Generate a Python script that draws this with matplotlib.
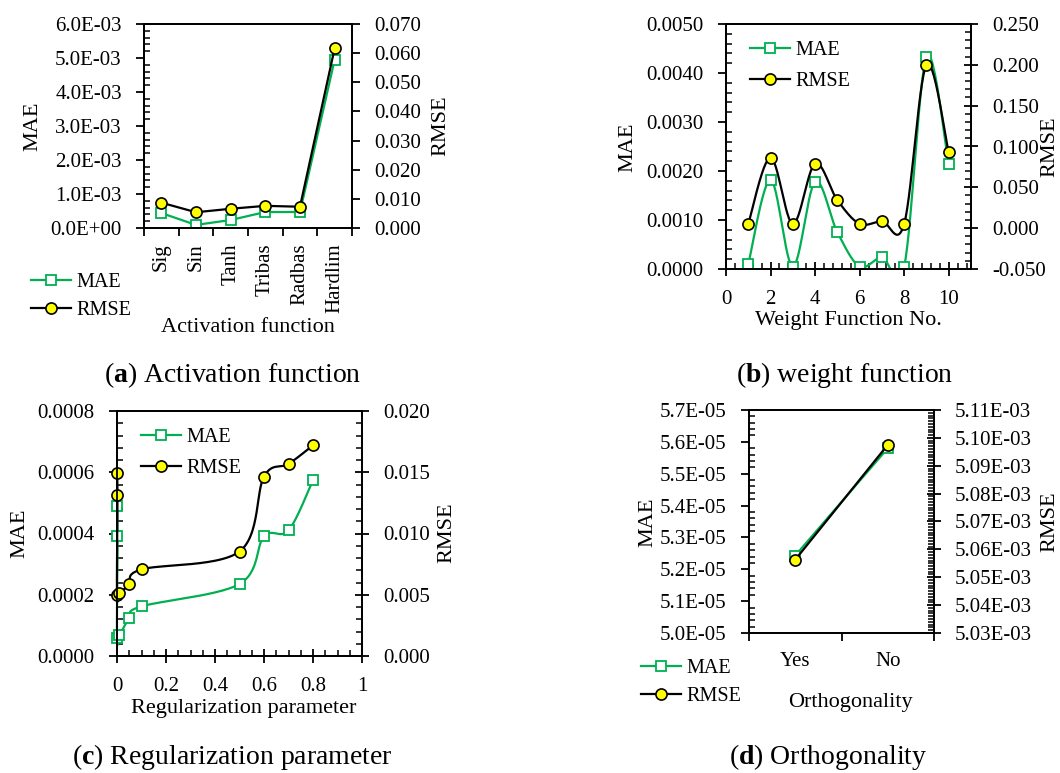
import numpy as np
import matplotlib
matplotlib.use("Agg")
import matplotlib.pyplot as plt
from matplotlib.ticker import MultipleLocator, FuncFormatter
from matplotlib.lines import Line2D

plt.rcParams["font.family"] = ["Liberation Serif", "DejaVu Serif"]
plt.rcParams["mathtext.fontset"] = "custom"
plt.rcParams["mathtext.rm"] = "Liberation Serif"
plt.rcParams["mathtext.bf"] = "Liberation Serif:bold"
plt.rcParams["axes.unicode_minus"] = False

# ---------------- (a) activation function ---------------- #
act_names = ["Sig", "Sin", "Tanh", "Tribas", "Radbas", "Hardlim"]
act_mae = [0.00044, 0.00009, 0.000235, 0.00047, 0.00047, 0.00495]
act_rmse = [0.0087, 0.0054, 0.0066, 0.0076, 0.0073, 0.0617]

# ---------------- (b) weight function ---------------- #
wf_no = [1, 2, 3, 4, 5, 6, 7, 8, 9, 10]
wf_mae = [0.0001, 0.00182, 0.00005, 0.00178, 0.00075, 0.00005, 0.00024, 0.00005, 0.00433, 0.00214]
wf_rmse = [0.0053, 0.0863, 0.0053, 0.079, 0.0343, 0.0053, 0.0086, 0.0053, 0.200, 0.0928]

# ---------------- (c) regularization parameter ---------------- #
reg_c = [0.001, 0.002, 0.0, 0.01, 0.05, 0.1, 0.5, 0.6, 0.7, 0.8]
reg_mae = [0.00049, 0.000391, 0.0000587, 0.0000674, 0.000124, 0.000162, 0.000235, 0.000391, 0.00041, 0.000574]
reg_rmse = [0.01497, 0.01315, 0.0050, 0.00514, 0.00584, 0.00707, 0.00853, 0.01465, 0.01568, 0.0172]

# ---------------- (d) orthogonality ---------------- #
orth_names = ["Yes", "No"]
orth_mae = [5.243e-05, 5.58e-05]
orth_rmse = [5.0563e-03, 5.0975e-03]

GREEN = "#00B050"
W, H = 1060, 773
TICK = 15
LAB = 16
CAP = 20

fig = plt.figure(figsize=(W / 100, H / 100), dpi=100)


def box(l, t, r, b):
    return [l / W, 1 - b / H, (r - l) / W, (b - t) / H]


def ftext(x, y, s, **kw):
    fig.text(x / W, 1 - y / H, s, **kw)


def smooth(xs, ys, xr, yr, wpx, hpx, n=30):
    # Excel-style smoothed line (Catmull-Rom through the points, screen space)
    u = (np.asarray(xs, float) - xr[0]) / (xr[1] - xr[0]) * wpx
    v = (np.asarray(ys, float) - yr[0]) / (yr[1] - yr[0]) * hpx
    P = np.column_stack([u, v])
    out = [P[0]]
    t = np.linspace(0, 1, n)[1:, None]
    for i in range(len(P) - 1):
        p0 = P[i - 1] if i > 0 else P[i]
        p1, p2 = P[i], P[i + 1]
        p3 = P[i + 2] if i + 2 < len(P) else P[i + 1]
        c1 = p1 + (p2 - p0) / 6
        c2 = p2 - (p3 - p1) / 6
        seg = (1 - t) ** 3 * p1 + 3 * (1 - t) ** 2 * t * c1 + 3 * (1 - t) * t ** 2 * c2 + t ** 3 * p2
        out.extend(seg)
    out = np.array(out)
    return (xr[0] + out[:, 0] / wpx * (xr[1] - xr[0]),
            yr[0] + out[:, 1] / hpx * (yr[1] - yr[0]))


mae_style = dict(marker="s", markersize=7.5, markerfacecolor="white",
                 markeredgecolor=GREEN, markeredgewidth=1.3, color=GREEN, linewidth=1.6)
rmse_style = dict(marker="o", markersize=8, markerfacecolor="#FFFF00",
                  markeredgecolor="black", markeredgewidth=1.2, color="black", linewidth=1.6)
mae_marks = {k: v for k, v in mae_style.items() if k not in ("color", "linewidth")}
rmse_marks = {k: v for k, v in rmse_style.items() if k not in ("color", "linewidth")}


def handles():
    return [Line2D([], [], **mae_style), Line2D([], [], **rmse_style)]


def add_legend(target, x, y, spacing, **kw):
    target.legend(handles(), ["MAE", "RMSE"], loc="upper left",
                  bbox_to_anchor=(x / W, 1 - y / H), bbox_transform=fig.transFigure,
                  frameon=False, fontsize=14.5, handlelength=2.0, handletextpad=0.25,
                  labelspacing=spacing, borderpad=0, borderaxespad=0, numpoints=1)


def style_axes(ax, ax2):
    for a in (ax, ax2):
        for sp in a.spines.values():
            sp.set_linewidth(1.3)
    ax.tick_params(axis="y", which="major", direction="out", length=6, width=1.3,
                   labelsize=TICK, pad=10)
    ax.tick_params(axis="y", which="minor", direction="in", length=4, width=1.1)
    ax.tick_params(axis="x", which="major", width=1.3, labelsize=TICK, pad=10)
    ax.tick_params(axis="x", which="minor", direction="in", length=4, width=1.1)
    ax2.tick_params(axis="y", which="major", direction="out", length=6, width=1.3,
                    labelsize=TICK, pad=10)
    ax2.tick_params(axis="y", which="minor", direction="in", length=4, width=1.1)


def fmt(f):
    return FuncFormatter(lambda v, p: f(v))


# ================= panel (a) ================= #
ax = fig.add_axes(box(144, 24, 352, 228))
ax2 = ax.twinx()
xa = np.arange(len(act_names))
ax.plot(xa, act_mae, **mae_style)
ax2.plot(xa, act_rmse, **rmse_style)
ax.set_xlim(-0.5, len(act_names) - 0.5)
ax.set_ylim(0, 0.006)
ax2.set_ylim(0, 0.07)
style_axes(ax, ax2)
ax.set_xticks(np.arange(len(act_names) + 1) - 0.5)
ax.set_xticklabels([])
ax.tick_params(axis="x", which="major", direction="out", length=6)
ax.set_xticks(xa, minor=True)
ax.set_xticklabels(act_names, minor=True, rotation=90, va="top", fontsize=TICK)
ax.tick_params(axis="x", which="minor", length=0, pad=11)
ax.yaxis.set_major_locator(MultipleLocator(0.001))
ax.yaxis.set_minor_locator(MultipleLocator(0.0002))
ax.yaxis.set_major_formatter(fmt(lambda v: f"{v:.1E}"))
ax2.yaxis.set_major_locator(MultipleLocator(0.01))
ax2.yaxis.set_major_formatter(fmt(lambda v: f"{v:.3f}"))
ftext(33, 126, "MAE", rotation=90, ha="center", va="center", fontsize=LAB)
ftext(441, 126, "RMSE", rotation=90, ha="center", va="center", fontsize=LAB)
ftext(248, 327, "Activation function", ha="center", va="center", fontsize=LAB)
add_legend(fig, 31, 273, 0.45)

# ================= panel (b) ================= #
bl, bt, br, bb = 726, 24, 971, 269
ax = fig.add_axes(box(bl, bt, br, bb))
ax2 = ax.twinx()
xr, yr, yr2 = (0, 11), (0, 0.005), (-0.05, 0.25)
sx, sy = smooth(wf_no, wf_mae, xr, yr, br - bl, bb - bt)
ax.plot(sx, sy, color=GREEN, linewidth=1.6)
ax.plot(wf_no, wf_mae, linestyle="none", **mae_marks)
sx, sy = smooth(wf_no, wf_rmse, xr, yr2, br - bl, bb - bt)
ax2.plot(sx, sy, color="black", linewidth=1.6)
ax2.plot(wf_no, wf_rmse, linestyle="none", **rmse_marks)
ax.set_xlim(*xr)
ax.set_ylim(*yr)
ax2.set_ylim(*yr2)
style_axes(ax, ax2)
ax.tick_params(axis="x", which="major", direction="inout", length=10)
ax2.tick_params(axis="y", which="major", direction="inout", length=10)
ax.xaxis.set_major_locator(MultipleLocator(2))
ax.xaxis.set_minor_locator(MultipleLocator(0.4))
ax.yaxis.set_major_locator(MultipleLocator(0.001))
ax.yaxis.set_minor_locator(MultipleLocator(0.0002))
ax.yaxis.set_major_formatter(fmt(lambda v: f"{v:.4f}"))
ax2.yaxis.set_major_locator(MultipleLocator(0.05))
ax2.yaxis.set_minor_locator(MultipleLocator(0.01))
ax2.yaxis.set_major_formatter(fmt(lambda v: f"{v:.3f}"))
ftext(628, 147, "MAE", rotation=90, ha="center", va="center", fontsize=LAB)
ftext(1050, 147, "RMSE", rotation=90, ha="center", va="center", fontsize=LAB)
ftext(848, 321, "Weight Function No.", ha="center", va="center", fontsize=LAB)
add_legend(ax, 750, 41, 0.6)

# ================= panel (c) ================= #
cl, ct, cr, cb = 117, 411, 362, 656
ax = fig.add_axes(box(cl, ct, cr, cb))
ax2 = ax.twinx()
xr, yr, yr2 = (0, 1), (0, 0.0008), (0, 0.02)
sx, sy = smooth(reg_c, reg_mae, xr, yr, cr - cl, cb - ct)
ax.plot(sx, sy, color=GREEN, linewidth=1.6, clip_on=False)
ax.plot(reg_c, reg_mae, linestyle="none", clip_on=False, **mae_marks)
sx, sy = smooth(reg_c, reg_rmse, xr, yr2, cr - cl, cb - ct)
ax2.plot(sx, sy, color="black", linewidth=1.6, clip_on=False)
ax2.plot(reg_c, reg_rmse, linestyle="none", clip_on=False, **rmse_marks)
ax.set_xlim(*xr)
ax.set_ylim(*yr)
ax2.set_ylim(*yr2)
style_axes(ax, ax2)
ax.tick_params(axis="x", which="major", direction="inout", length=10)
ax2.tick_params(axis="y", which="major", direction="inout", length=10)
ax.xaxis.set_major_locator(MultipleLocator(0.2))
ax.xaxis.set_minor_locator(MultipleLocator(0.05))
ax.xaxis.set_major_formatter(fmt(lambda v: f"{v:g}"))
ax.yaxis.set_major_locator(MultipleLocator(0.0002))
ax.yaxis.set_minor_locator(MultipleLocator(0.00004))
ax.yaxis.set_major_formatter(fmt(lambda v: f"{v:.4f}"))
ax2.yaxis.set_major_locator(MultipleLocator(0.005))
ax2.yaxis.set_minor_locator(MultipleLocator(0.001))
ax2.yaxis.set_major_formatter(fmt(lambda v: f"{v:.3f}"))
ftext(20, 533, "MAE", rotation=90, ha="center", va="center", fontsize=LAB)
ftext(447, 533, "RMSE", rotation=90, ha="center", va="center", fontsize=LAB)
ftext(244, 708, "Regularization parameter", ha="center", va="center", fontsize=LAB)
add_legend(ax, 141, 428, 0.6)

# ================= panel (d) ================= #
ax = fig.add_axes(box(749, 410, 934, 633))
ax2 = ax.twinx()
xd = np.arange(len(orth_names))
ax.plot(xd, orth_mae, **mae_style)
ax2.plot(xd, orth_rmse, **rmse_style)
ax.set_xlim(-0.5, len(orth_names) - 0.5)
ax.set_ylim(5.0e-05, 5.7e-05)
ax2.set_ylim(5.03e-03, 5.11e-03)
style_axes(ax, ax2)
ax2.tick_params(axis="y", which="major", direction="inout", length=10)
ax.set_xticks(np.arange(len(orth_names) + 1) - 0.5)
ax.set_xticklabels([])
ax.tick_params(axis="x", which="major", direction="out", length=6)
ax.set_xticks(xd, minor=True)
ax.set_xticklabels(orth_names, minor=True, fontsize=TICK)
ax.tick_params(axis="x", which="minor", length=0, pad=14)
ax.yaxis.set_major_locator(MultipleLocator(1e-06))
ax.yaxis.set_minor_locator(MultipleLocator(2e-07))
ax.yaxis.set_major_formatter(fmt(lambda v: f"{v:.1E}"))
ax2.yaxis.set_major_locator(MultipleLocator(1e-05))
ax2.yaxis.set_minor_locator(MultipleLocator(1e-06))
ax2.yaxis.set_major_formatter(fmt(lambda v: f"{v:.2E}"))
ftext(648, 522, "MAE", rotation=90, ha="center", va="center", fontsize=LAB)
ftext(1050, 522, "RMSE", rotation=90, ha="center", va="center", fontsize=LAB)
ftext(850, 703, "Orthogonality", ha="center", va="center", fontsize=LAB)
add_legend(fig, 641, 659, 0.45)

# ---------------- captions ---------------- #
ftext(233, 375, r"($\mathbf{a}$) Activation function", ha="center", va="center", fontsize=CAP)
ftext(845, 375, r"($\mathbf{b}$) weight function", ha="center", va="center", fontsize=CAP)
ftext(232, 757, r"($\mathbf{c}$) Regularization parameter", ha="center", va="center", fontsize=CAP)
ftext(828, 757, r"($\mathbf{d}$) Orthogonality", ha="center", va="center", fontsize=CAP)

fig.savefig("out.png", dpi=100)
